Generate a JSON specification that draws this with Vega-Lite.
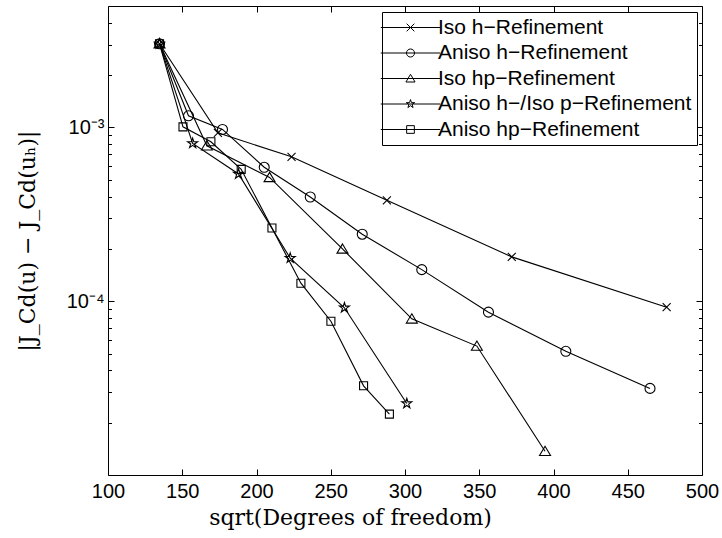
{
  "$schema": "https://vega.github.io/schema/vega-lite/v6.json",
  "width": 594,
  "height": 469,
  "autosize": {"type": "none"},
  "padding": {"left": 108, "top": 6, "right": 20, "bottom": 63},
  "background": "white",
  "config": {
    "view": {"stroke": "black", "strokeWidth": 1},
    "axis": {
      "grid": false,
      "domain": false,
      "tickColor": "black",
      "tickWidth": 1,
      "labelColor": "black",
      "titleColor": "black",
      "labelFont": "Liberation Sans",
      "labelFontSize": 20,
      "titleFont": "DejaVu Serif",
      "titleFontSize": 22,
      "titleFontWeight": "normal"
    }
  },
  "data": {
    "values": [
      {"s": "Iso h−Refinement", "x": 134.7, "y": 0.00303},
      {"s": "Iso h−Refinement", "x": 174.0, "y": 0.000931},
      {"s": "Iso h−Refinement", "x": 223.6, "y": 0.000678},
      {"s": "Iso h−Refinement", "x": 287.8, "y": 0.000381},
      {"s": "Iso h−Refinement", "x": 371.9, "y": 0.000180},
      {"s": "Iso h−Refinement", "x": 476.2, "y": 0.0000924},
      {"s": "Aniso h−Refinement", "x": 134.7, "y": 0.00303},
      {"s": "Aniso h−Refinement", "x": 154.2, "y": 0.001167},
      {"s": "Aniso h−Refinement", "x": 177.1, "y": 0.000974},
      {"s": "Aniso h−Refinement", "x": 205.2, "y": 0.000590},
      {"s": "Aniso h−Refinement", "x": 236.2, "y": 0.000398},
      {"s": "Aniso h−Refinement", "x": 271.2, "y": 0.000243},
      {"s": "Aniso h−Refinement", "x": 311.3, "y": 0.000152},
      {"s": "Aniso h−Refinement", "x": 356.2, "y": 0.0000865},
      {"s": "Aniso h−Refinement", "x": 408.3, "y": 0.0000515},
      {"s": "Aniso h−Refinement", "x": 465.0, "y": 0.0000315},
      {"s": "Iso hp−Refinement", "x": 134.7, "y": 0.00303},
      {"s": "Iso hp−Refinement", "x": 166.6, "y": 0.000784},
      {"s": "Iso hp−Refinement", "x": 208.8, "y": 0.000516},
      {"s": "Iso hp−Refinement", "x": 257.9, "y": 0.000200},
      {"s": "Iso hp−Refinement", "x": 304.6, "y": 0.0000792},
      {"s": "Iso hp−Refinement", "x": 348.4, "y": 0.0000552},
      {"s": "Iso hp−Refinement", "x": 394.3, "y": 0.0000137},
      {"s": "Aniso h−/Iso p−Refinement", "x": 134.7, "y": 0.00303},
      {"s": "Aniso h−/Iso p−Refinement", "x": 157.0, "y": 0.000810},
      {"s": "Aniso h−/Iso p−Refinement", "x": 187.9, "y": 0.000540},
      {"s": "Aniso h−/Iso p−Refinement", "x": 222.7, "y": 0.000177},
      {"s": "Aniso h−/Iso p−Refinement", "x": 259.2, "y": 0.0000917},
      {"s": "Aniso h−/Iso p−Refinement", "x": 301.2, "y": 0.0000258},
      {"s": "Aniso hp−Refinement", "x": 134.7, "y": 0.00303},
      {"s": "Aniso hp−Refinement", "x": 150.5, "y": 0.001008},
      {"s": "Aniso hp−Refinement", "x": 169.3, "y": 0.000827},
      {"s": "Aniso hp−Refinement", "x": 189.7, "y": 0.000574},
      {"s": "Aniso hp−Refinement", "x": 210.4, "y": 0.000264},
      {"s": "Aniso hp−Refinement", "x": 229.9, "y": 0.000127},
      {"s": "Aniso hp−Refinement", "x": 250.1, "y": 0.0000767},
      {"s": "Aniso hp−Refinement", "x": 272.1, "y": 0.0000326},
      {"s": "Aniso hp−Refinement", "x": 289.5, "y": 0.0000224}
    ]
  },
  "layer": [
    {
      "mark": {"type": "line", "color": "black", "strokeWidth": 1.1},
      "encoding": {
        "x": {
          "field": "x",
          "type": "quantitative",
          "scale": {"domain": [100, 500], "nice": false, "zero": false},
          "axis": {
            "orient": "bottom",
            "values": [100, 150, 200, 250, 300, 350, 400, 450, 500],
            "format": "d",
            "tickSize": -6,
            "labelPadding": 12.5,
            "labelFlush": false,
            "labelOverlap": false,
            "title": "sqrt(Degrees of freedom)",
            "titleX": 242,
            "titleY": 49,
            "titleAlign": "center",
            "titleBaseline": "alphabetic"
          }
        },
        "y": {
          "field": "y",
          "type": "quantitative",
          "scale": {"type": "log", "domain": [0.00001, 0.005], "nice": false},
          "axis": {
            "orient": "left",
            "values": [0.00002, 0.00003, 0.00004, 0.00005, 0.00006, 0.00007, 0.00008, 0.00009, 0.0001, 0.0002, 0.0003, 0.0004, 0.0005, 0.0006, 0.0007, 0.0008, 0.0009, 0.001, 0.002, 0.003, 0.004],
            "tickSize": {"condition": {"test": "datum.value == 0.001 || datum.value == 0.0001", "value": -6}, "value": -3.5},
            "labelPadding": 10,
            "labelExpr": "datum.value == 0.001 ? '10⁻³' : datum.value == 0.0001 ? '10⁻⁴' : ''",
            "labelOverlap": false,
            "labelBaseline": "middle",
            "title": "|J_Cd(u) − J_Cd(uₕ)|",
            "titleX": -81,
            "titleBaseline": "middle",
            "titleAlign": "center"
          }
        },
        "detail": {"field": "s", "type": "nominal"}
      }
    },
    {
      "mark": {"type": "point", "filled": false, "strokeWidth": 1.1, "size": 100, "opacity": 1},
      "encoding": {
        "x": {
          "field": "x",
          "type": "quantitative",
          "scale": {"domain": [100, 500], "nice": false, "zero": false},
          "axis": {
            "orient": "top",
            "values": [100, 150, 200, 250, 300, 350, 400, 450, 500],
            "tickSize": -6,
            "labels": false,
            "title": null
          }
        },
        "y": {
          "field": "y",
          "type": "quantitative",
          "scale": {"type": "log", "domain": [0.00001, 0.005], "nice": false},
          "axis": {
            "orient": "right",
            "values": [0.00002, 0.00003, 0.00004, 0.00005, 0.00006, 0.00007, 0.00008, 0.00009, 0.0001, 0.0002, 0.0003, 0.0004, 0.0005, 0.0006, 0.0007, 0.0008, 0.0009, 0.001, 0.002, 0.003, 0.004],
            "tickSize": {"condition": {"test": "datum.value == 0.001 || datum.value == 0.0001", "value": -6}, "value": -3.5},
            "labels": false,
            "title": null
          }
        },
        "shape": {
          "field": "s",
          "type": "nominal",
          "scale": {
            "domain": ["Aniso hp−Refinement", "Aniso h−/Iso p−Refinement", "Iso hp−Refinement", "Aniso h−Refinement", "Iso h−Refinement"],
            "range": [
              "M-0.8,-0.8L0.8,-0.8L0.8,0.8L-0.8,0.8Z",
              "M0,-1.05L0.235,-0.324L1,-0.324L0.38,0.124L0.617,0.849L0,0.4L-0.617,0.849L-0.38,0.124L-1,-0.324L-0.235,-0.324Z",
              "M0,-1L1.1,0.85L-1.1,0.85Z",
              "circle",
              "M-0.8,-0.8L0.8,0.8M-0.8,0.8L0.8,-0.8"
            ]
          },
          "legend": null
        },
        "color": {
          "field": "s",
          "type": "nominal",
          "scale": {
            "domain": ["Iso h−Refinement", "Aniso h−Refinement", "Iso hp−Refinement", "Aniso h−/Iso p−Refinement", "Aniso hp−Refinement"],
            "range": ["black", "black", "black", "black", "black"]
          },
          "legend": {
            "orient": "none",
            "legendX": 274,
            "legendY": 6,
            "direction": "vertical",
            "title": null,
            "padding": 5,
            "strokeColor": "black",
            "fillColor": "white",
            "labelFont": "Liberation Sans",
            "labelFontSize": 21,
            "labelColor": "black",
            "labelLimit": 400,
            "labelAlign": "left",
            "symbolSize": 49,
            "symbolOffset": 13,
            "labelOffset": 17,
            "rowPadding": 3.5,
            "symbolStrokeWidth": 1,
            "symbolType": {"expr": "['M-8.5,0L8.5,0M-1.1,-1.1L1.1,1.1M-1.1,1.1L1.1,-1.1', 'M-8.5,0L8.5,0M1.15,0A1.15,1.15,0,1,1,-1.15,0A1.15,1.15,0,1,1,1.15,0', 'M-8.5,0L8.5,0M0,-1.2L1.3,1L-1.3,1Z', 'M-8.5,0L8.5,0M0,-1.26L0.28,-0.39L1.2,-0.39L0.46,0.15L0.74,1.02L0,0.48L-0.74,1.02L-0.46,0.15L-1.2,-0.39L-0.28,-0.39Z', 'M-8.5,0L8.5,0M-1.1,-1.1L1.1,-1.1L1.1,1.1L-1.1,1.1Z'][indexof(['Iso h−Refinement', 'Aniso h−Refinement', 'Iso hp−Refinement', 'Aniso h−/Iso p−Refinement', 'Aniso hp−Refinement'], datum.value)]"},
            "encode": {
              "symbols": {
                "size": {"value": 49},
                "fill": {"value": "transparent"},
                "strokeWidth": {"value": 1},
                "opacity": {"value": 1}
              }
            }
          }
        }
      }
    }
  ],
  "resolve": {"axis": {"x": "independent", "y": "independent"}}
}
